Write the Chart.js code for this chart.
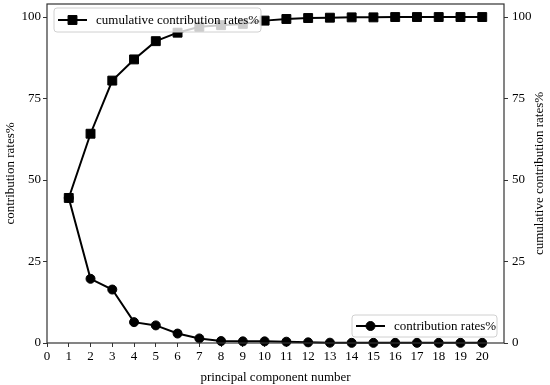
<!DOCTYPE html>
<html><head><meta charset="utf-8">
<script src="https://cdn.jsdelivr.net/npm/chart.js@4/dist/chart.umd.min.js"></script>
<style>html,body{margin:0;padding:0;background:#fff}#w{width:550px;height:385px}</style>
</head><body><div id="w"><canvas id="c" width="550" height="385"></canvas></div>
<script>
const components = [1,2,3,4,5,6,7,8,9,10,11,12,13,14,15,16,17,18,19,20];
const contribution = [44.5,19.7,16.4,6.4,5.4,2.9,1.4,0.6,0.5,0.5,0.4,0.2,0.1,0.05,0.05,0.05,0.05,0.05,0.05,0.05];
const cumulative = [44.5,64.2,80.5,87.0,92.6,95.2,97.0,97.5,97.9,98.9,99.4,99.7,99.8,99.9,99.9,100,100,100,100,100];
const xTicks = [0,1,2,3,4,5,6,7,8,9,10,11,12,13,14,15,16,17,18,19,20];
const yTicks = [0,25,50,75,100];
const rightTitle = 'cumulative contribution rates%';

const FONT = {family:'"Liberation Serif","Times New Roman",serif', size:13};
const pts = (arr)=>arr.map((v,i)=>({x:components[i], y:v}));

const frame = {
  id:'frame',
  afterDatasetsDraw(chart){
    const {ctx, chartArea:a} = chart;
    ctx.save();
    ctx.strokeStyle='#333'; ctx.lineWidth=1.2;
    ctx.strokeRect(a.left, a.top, a.right-a.left, a.bottom-a.top);
    ctx.save();
    ctx.translate(540, (a.top+a.bottom)/2);
    ctx.rotate(-Math.PI/2);
    ctx.fillStyle='#000';
    ctx.font='13px "Liberation Serif", serif';
    ctx.textAlign='center'; ctx.textBaseline='middle';
    ctx.fillText(rightTitle, 0, 0);
    ctx.restore();
    const drawLeg = (x,y,w,h,ds,label)=>{
      ctx.fillStyle='rgba(255,255,255,0.8)';
      ctx.strokeStyle='#d0d0d0'; ctx.lineWidth=1;
      ctx.beginPath();
      if (ctx.roundRect) ctx.roundRect(x,y,w,h,3); else ctx.rect(x,y,w,h);
      ctx.fill(); ctx.stroke();
      const cy = y+h/2;
      ctx.strokeStyle='#000'; ctx.lineWidth=2;
      ctx.beginPath(); ctx.moveTo(x+4,cy); ctx.lineTo(x+33,cy); ctx.stroke();
      ctx.fillStyle='#000'; ctx.strokeStyle='#000'; ctx.lineWidth=1;
      Chart.helpers.drawPoint(ctx,{pointStyle:ds.pointStyle, radius:ds.pointRadius, borderWidth:1}, x+18.5, cy);
      ctx.fillStyle='#000';
      ctx.font = '13px "Liberation Serif", serif';
      ctx.textBaseline='middle'; ctx.textAlign='left';
      ctx.fillText(label, x+42, cy+1);
    };
    drawLeg(54,8,207,24, chart.data.datasets[1], chart.data.datasets[1].label);
    drawLeg(352,315,145,22, chart.data.datasets[0], chart.data.datasets[0].label);
    ctx.restore();
  }
};

const noPad = (s)=>{ s.paddingTop=0; s.paddingBottom=0; s.paddingLeft=0; s.paddingRight=0; };

new Chart(document.getElementById('c'), {
  type:'line',
  data:{datasets:[
    {label:'contribution rates%', data:pts(contribution), yAxisID:'y', borderColor:'#000', backgroundColor:'#000', borderWidth:2, pointStyle:'circle', pointRadius:4.5, pointBorderWidth:1, pointBackgroundColor:'#000', pointBorderColor:'#000', tension:0, clip:false},
    {label:'cumulative contribution rates%', data:pts(cumulative), yAxisID:'y2', borderColor:'#000', backgroundColor:'#000', borderWidth:2, pointStyle:'rect', pointRadius:6.3, pointBorderWidth:1, pointBackgroundColor:'#000', pointBorderColor:'#000', tension:0, clip:false}
  ]},
  options:{
    responsive:false, animation:false, devicePixelRatio:1,
    layout:{autoPadding:false, padding:{top:4, left:0, right:0, bottom:0}},
    plugins:{legend:{display:false}, tooltip:{enabled:false}},
    scales:{
      x:{type:'linear', min:0, max:21,
        afterBuildTicks(s){ s.ticks = xTicks.map(v=>({value:v})); },
        afterFit(s){ s.height = 42; noPad(s); },
        grid:{drawOnChartArea:false, drawTicks:true, tickLength:4, color:'#333'},
        border:{display:false},
        ticks:{color:'#000', font:FONT, padding:2, maxRotation:0, autoSkip:false},
        title:{display:true, text:'principal component number', color:'#000', font:FONT, padding:{top:0,bottom:0}}
      },
      y:{position:'left', min:0, max:104,
        afterBuildTicks(s){ s.ticks = yTicks.map(v=>({value:v})); },
        afterFit(s){ s.width = 47; noPad(s); },
        grid:{drawOnChartArea:false, drawTicks:true, tickLength:4, color:'#333'},
        border:{display:false},
        ticks:{color:'#000', font:FONT, padding:2},
        title:{display:true, text:'contribution rates%', color:'#000', font:FONT, padding:{top:3,bottom:0}}
      },
      y2:{position:'right', min:0, max:104,
        afterBuildTicks(s){ s.ticks = yTicks.map(v=>({value:v})); },
        afterFit(s){ s.width = 46; noPad(s); },
        grid:{drawOnChartArea:false, drawTicks:true, tickLength:4, color:'#333'},
        border:{display:false},
        ticks:{color:'#000', font:FONT, padding:4},
        title:{display:false}
      }
    }
  },
  plugins:[frame]
});
</script></body></html>
